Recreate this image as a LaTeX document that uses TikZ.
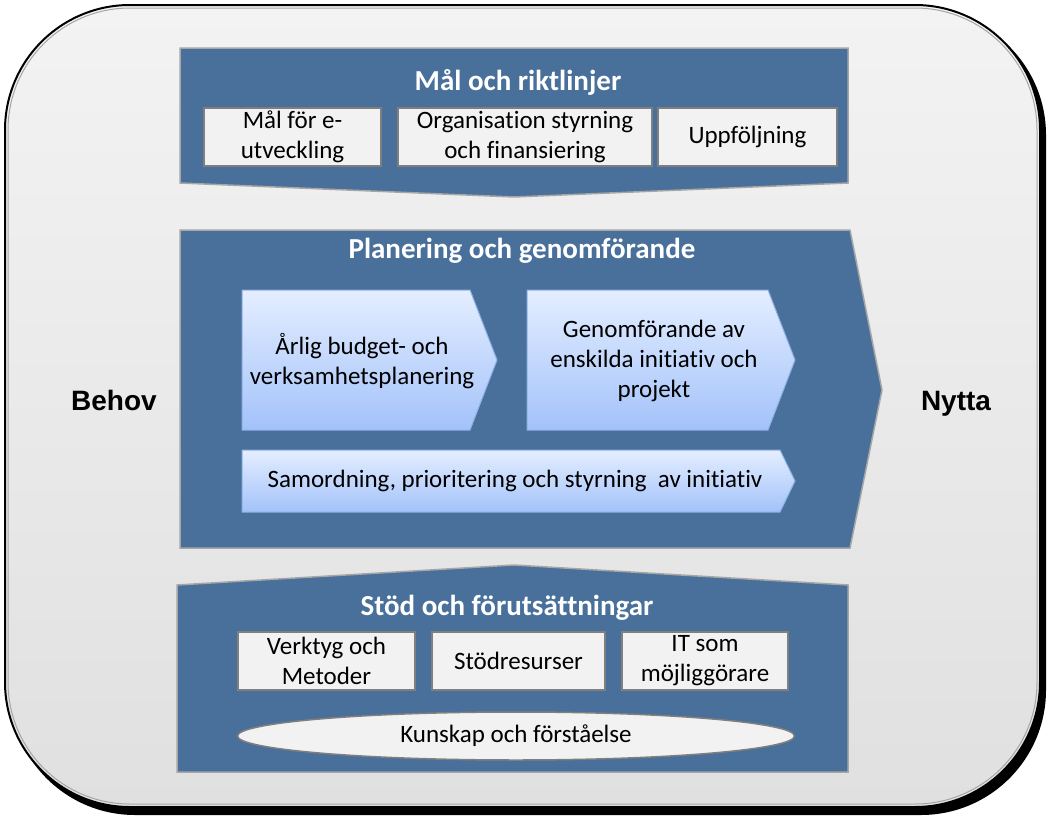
\documentclass[tikz,border=0pt]{standalone}
\usepackage{fontspec}
\setmainfont{Carlito}[Ligatures=NoCommon]
\newfontfamily\sidefont{Liberation Sans}
\usetikzlibrary{positioning,shapes.geometric,calc}
\definecolor{panelblue}{HTML}{48709A}
\definecolor{panelline}{HTML}{A6A6A6}
\definecolor{boxfill}{HTML}{F2F2F2}
\definecolor{boxline}{HTML}{7F7F7F}
\definecolor{chevtop}{HTML}{E4EEFF}
\definecolor{chevbot}{HTML}{A3C2FA}
\definecolor{chevline}{HTML}{8EB0E6}
\definecolor{frametop}{HTML}{F3F3F3}
\definecolor{framebot}{HTML}{E0E0E0}
\tikzset{
  panel/.style={fill=panelblue,draw=panelline,line width=1.5pt},
  chevron/.style={top color=chevtop,bottom color=chevbot,draw=chevline,line width=1pt},
  paneltitle/.style={text=white,font=\fontsize{29}{34}\bfseries\selectfont},
  subbox/.style={draw=boxline,fill=boxfill,line width=1.5pt,align=center,minimum height=58pt,inner sep=1pt,font=\fontsize{25}{30}\selectfont},
  chevtext/.style={align=center,font=\fontsize{25}{30}\selectfont},
  sidelabel/.style={anchor=base,font=\sidefont\fontsize{28}{32}\bfseries\selectfont}
}

\begin{document}
\begin{tikzpicture}[x=1pt,y=-1pt]
  \useasboundingbox (0,0) rectangle (1050,819);
  % outer frame with shadow
  \fill[black,rounded corners=125pt] (10,10) rectangle (1046,815);
  \shade[top color=frametop,bottom color=framebot,draw=black,line width=2pt,rounded corners=125pt] (5,5) rectangle (1040,807);
  \draw[panelline,line width=1pt,rounded corners=122pt] (8,8) rectangle (1037,804);

  % Mål och riktlinjer
  \draw[panel] (180,48) -- (848,48) -- (848,183) -- (514,197) -- (180,183) -- cycle;
  \node[paneltitle] (maltitle) at (518,82) {Mål och riktlinjer};
  \node[subbox,minimum width=177pt] (malmal) at (292.5,137) {Mål för e-\\utveckling};
  \node[subbox,minimum width=254pt] (malorg) at (525,137) {Organisation styrning\\och finansiering};
  \node[subbox,minimum width=179pt] (malupp) at (747.5,137) {Uppföljning};

  % Planering och genomförande
  \draw[panel] (180,230) -- (850,230) -- (882,390) -- (850,548) -- (180,548) -- cycle;
  \node[paneltitle] (plantitle) at (522,251) {Planering och genomförande};
  \draw[chevron] (242,290) -- (470,290) -- (497,360) -- (470,430) -- (242,430) -- cycle;
  \node[chevtext] (planbudget) at (362,361) {Årlig budget- och\\verksamhetsplanering};
  \draw[chevron] (527,290) -- (768,290) -- (795,360) -- (768,430) -- (527,430) -- cycle;
  \node[chevtext] (plangenom) at (654,361) {Genomförande av\\enskilda initiativ och\\projekt};
  \draw[chevron] (242,450) -- (780,450) -- (795,481) -- (780,512) -- (242,512) -- cycle;
  \node[chevtext] (plansamord) at (515,481) {Samordning, prioritering och styrning\ \ av initiativ};

  % Stöd och förutsättningar
  \draw[panel] (177,585) -- (514,565) -- (848,585) -- (848,772) -- (177,772) -- cycle;
  \node[paneltitle] (stodtitle) at (507,608) {Stöd och förutsättningar};
  \node[subbox,minimum width=177pt] (stodverktyg) at (326.5,661) {Verktyg och\\Metoder};
  \node[subbox,minimum width=173pt] (stodresurs) at (518.5,661) {Stödresurser};
  \node[subbox,minimum width=166pt] (stodit) at (705,661) {IT som\\möjliggörare};
  \node[ellipse,draw=boxline,fill=boxfill,line width=1.5pt,minimum width=557pt,minimum height=48pt,inner sep=0pt,font=\fontsize{25}{30}\selectfont] (stodkunskap) at (516,736) {Kunskap och förståelse};

  % sidor
  \node[sidelabel] (behov) at (114,410) {Behov};
  \node[sidelabel] (nytta) at (956,410) {Nytta};

\end{tikzpicture}
\end{document}
